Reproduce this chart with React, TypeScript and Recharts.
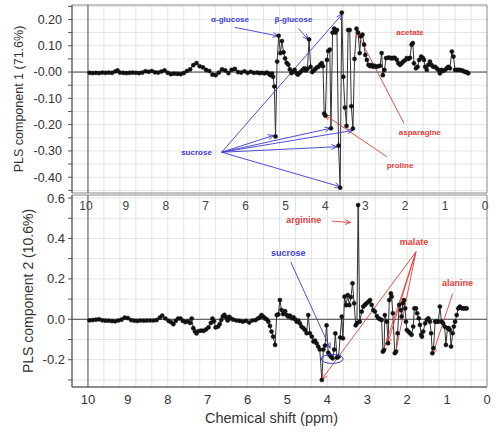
import React from "react";
import {
  CartesianGrid,
  Line,
  LineChart,
  ReferenceArea,
  ReferenceDot,
  ReferenceLine,
  XAxis,
  YAxis,
} from "recharts";

// chemical shift (ppm) / loading pairs
const pc1Loadings: [number, number][] = [
  [9.96, -0.003], [9.88, -0.004], [9.8, -0.003], [9.72, -0.004], [9.64, -0.002], [9.56, -0.003],
  [9.48, -0.002], [9.4, -0.003], [9.32, 0.002], [9.26, 0.006], [9.2, -0.002], [9.12, -0.003],
  [9.04, -0.004], [8.96, -0.003], [8.88, -0.002], [8.8, -0.003], [8.72, -0.004], [8.64, -0.002],
  [8.56, 0.003], [8.48, 0.001], [8.4, 0.004], [8.32, -0.001], [8.24, -0.002], [8.16, 0.002],
  [8.08, 0.006], [8.0, -0.003], [7.92, -0.008], [7.84, -0.006], [7.76, -0.007], [7.68, -0.008],
  [7.6, -0.004], [7.52, 0.004], [7.44, 0.01], [7.36, 0.026], [7.28, 0.034], [7.2, 0.022],
  [7.12, 0.018], [7.04, 0.008], [6.96, 0.004], [6.88, -0.01], [6.8, -0.012], [6.72, -0.002],
  [6.64, 0.01], [6.56, 0.006], [6.48, -0.004], [6.4, 0.008], [6.32, 0.012], [6.24, 0.0],
  [6.16, -0.002], [6.08, 0.003], [6.0, -0.003], [5.92, 0.001], [5.84, -0.003], [5.76, -0.002],
  [5.7, -0.004], [5.64, -0.003], [5.58, -0.005], [5.52, -0.002], [5.47, -0.006], [5.43, -0.012],
  [5.39, -0.006], [5.36, -0.018], [5.33, -0.055], [5.3, -0.245], [5.26, 0.04], [5.22, 0.138],
  [5.18, 0.072], [5.14, 0.118], [5.1, 0.075], [5.06, 0.052], [5.02, 0.035], [4.98, 0.028],
  [4.94, 0.01], [4.9, -0.004], [4.86, 0.002], [4.82, 0.008], [4.78, -0.004], [4.74, -0.01],
  [4.7, -0.004], [4.66, 0.002], [4.62, 0.008], [4.58, 0.014], [4.54, 0.006], [4.5, 0.012],
  [4.46, 0.124], [4.42, 0.02], [4.38, 0.0], [4.34, 0.006], [4.3, 0.012], [4.26, 0.018],
  [4.22, 0.02], [4.18, 0.028], [4.14, 0.034], [4.11, 0.022], [4.08, -0.158], [4.05, -0.166],
  [4.01, 0.046], [3.98, 0.08], [3.94, 0.085], [3.91, -0.214], [3.87, 0.15], [3.83, 0.165],
  [3.8, 0.15], [3.76, 0.16], [3.72, -0.28], [3.68, -0.44], [3.64, 0.226], [3.6, -0.018],
  [3.56, -0.135], [3.52, -0.205], [3.48, 0.16], [3.44, 0.16], [3.4, -0.13], [3.36, -0.215],
  [3.32, 0.05], [3.27, 0.165], [3.23, 0.15], [3.19, 0.072], [3.16, 0.136], [3.12, 0.142],
  [3.08, 0.104], [3.05, 0.065], [3.01, 0.046], [2.97, 0.027], [2.93, 0.022], [2.89, 0.026],
  [2.85, 0.02], [2.81, 0.024], [2.77, 0.02], [2.72, 0.022], [2.68, 0.024], [2.64, 0.072],
  [2.61, -0.012], [2.57, 0.008], [2.53, 0.053], [2.47, 0.055], [2.43, 0.054], [2.39, 0.052],
  [2.35, 0.054], [2.31, 0.054], [2.26, 0.046], [2.22, 0.033], [2.18, 0.027], [2.14, 0.033],
  [2.1, 0.04], [2.06, 0.044], [2.01, 0.053], [1.97, 0.05], [1.93, 0.054], [1.89, 0.104],
  [1.86, 0.11], [1.83, 0.033], [1.78, 0.014], [1.74, 0.02], [1.7, 0.046], [1.65, 0.059],
  [1.61, 0.054], [1.58, 0.046], [1.55, 0.02], [1.51, 0.008], [1.47, 0.027], [1.43, 0.04],
  [1.39, 0.027], [1.35, 0.02], [1.3, 0.02], [1.26, 0.014], [1.22, 0.008], [1.18, -0.005],
  [1.14, 0.008], [1.1, 0.004], [1.05, 0.008], [1.01, 0.014], [0.97, 0.02], [0.93, 0.014],
  [0.88, 0.078], [0.84, 0.059], [0.8, 0.008], [0.76, 0.008], [0.72, 0.008], [0.68, 0.008],
  [0.63, 0.006], [0.59, 0.004], [0.55, 0.0], [0.51, 0.0], [0.47, -0.005],
];

const pc2Loadings: [number, number][] = [
  [9.96, -0.005], [9.88, -0.004], [9.8, -0.002], [9.72, 0.0], [9.64, -0.005], [9.56, -0.007],
  [9.48, -0.007], [9.4, -0.009], [9.32, -0.01], [9.24, -0.006], [9.16, -0.002], [9.08, 0.008],
  [9.0, 0.006], [8.92, -0.004], [8.84, -0.007], [8.76, -0.008], [8.68, -0.006], [8.6, -0.007],
  [8.52, -0.006], [8.44, -0.006], [8.36, -0.006], [8.28, -0.004], [8.2, 0.008], [8.14, 0.018],
  [8.06, 0.004], [7.98, -0.008], [7.92, -0.014], [7.86, -0.024], [7.8, -0.008], [7.74, 0.004],
  [7.68, 0.004], [7.62, -0.008], [7.56, -0.014], [7.5, -0.01], [7.44, -0.018], [7.4, 0.004],
  [7.36, -0.044], [7.32, -0.06], [7.28, -0.07], [7.22, -0.058], [7.16, -0.056], [7.1, -0.057],
  [7.04, -0.05], [6.98, -0.04], [6.92, -0.018], [6.88, 0.004], [6.84, -0.01], [6.8, -0.04],
  [6.74, -0.036], [6.7, -0.024], [6.66, -0.004], [6.62, 0.014], [6.58, 0.022], [6.54, 0.01],
  [6.5, -0.006], [6.46, 0.012], [6.42, 0.004], [6.36, -0.002], [6.28, -0.006], [6.2, -0.008],
  [6.12, -0.012], [6.04, -0.008], [5.96, -0.016], [5.88, -0.006], [5.8, -0.004], [5.74, 0.004],
  [5.69, 0.01], [5.65, 0.021], [5.6, 0.012], [5.56, 0.004], [5.52, 0.0], [5.48, -0.012],
  [5.44, -0.033], [5.4, -0.061], [5.36, -0.086], [5.31, -0.127], [5.27, 0.021], [5.23, 0.024],
  [5.19, 0.095], [5.15, 0.046], [5.11, 0.026], [5.06, 0.04], [5.02, 0.021], [4.98, 0.013],
  [4.94, 0.018], [4.89, 0.005], [4.85, 0.01], [4.81, 0.0], [4.77, -0.012], [4.73, -0.007],
  [4.69, -0.02], [4.65, -0.036], [4.6, -0.044], [4.56, -0.053], [4.52, -0.069], [4.48, 0.021],
  [4.44, -0.069], [4.39, -0.086], [4.35, -0.11], [4.31, -0.105], [4.27, -0.119], [4.23, -0.135],
  [4.19, -0.15], [4.14, -0.3], [4.1, -0.15], [4.06, -0.13], [4.02, -0.03], [3.98, -0.165],
  [3.95, -0.176], [3.91, -0.185], [3.87, -0.193], [3.83, -0.15], [3.8, -0.07], [3.76, -0.19],
  [3.72, -0.185], [3.68, -0.09], [3.64, 0.013], [3.61, -0.094], [3.57, 0.112], [3.53, 0.07],
  [3.49, 0.12], [3.45, 0.07], [3.41, 0.11], [3.37, 0.178], [3.33, 0.079], [3.29, -0.03],
  [3.26, -0.02], [3.23, 0.565], [3.19, -0.012], [3.14, 0.038], [3.1, 0.063], [3.06, 0.071],
  [3.02, 0.079], [2.97, 0.087], [2.93, 0.095], [2.89, 0.071], [2.85, 0.046], [2.81, 0.038],
  [2.76, 0.016], [2.72, 0.005], [2.68, 0.0], [2.64, -0.003], [2.61, -0.16], [2.58, -0.152],
  [2.56, 0.021], [2.51, -0.012], [2.48, -0.119], [2.45, 0.095], [2.41, 0.128], [2.39, 0.112],
  [2.36, 0.03], [2.31, -0.168], [2.28, -0.16], [2.24, -0.069], [2.2, 0.071], [2.16, 0.046],
  [2.14, 0.013], [2.11, 0.079], [2.08, 0.095], [2.05, 0.054], [2.03, -0.012], [2.01, -0.053],
  [1.97, -0.061], [1.93, -0.069], [1.89, -0.077], [1.85, -0.036], [1.82, 0.054], [1.78, 0.054],
  [1.75, 0.03], [1.71, 0.005], [1.68, -0.028], [1.65, -0.077], [1.63, -0.086], [1.6, -0.061],
  [1.55, -0.02], [1.51, -0.003], [1.47, 0.005], [1.43, -0.012], [1.4, -0.069], [1.37, -0.168],
  [1.34, -0.143], [1.3, -0.012], [1.26, -0.012], [1.22, -0.012], [1.18, 0.063], [1.14, -0.012],
  [1.1, -0.02], [1.06, -0.036], [1.03, -0.127], [0.99, -0.044], [0.96, -0.044], [0.93, -0.053],
  [0.9, -0.135], [0.86, -0.069], [0.83, -0.036], [0.8, -0.012], [0.76, 0.021], [0.72, 0.054],
  [0.68, 0.063], [0.63, 0.054], [0.59, 0.054], [0.55, 0.054], [0.51, 0.054],
];

const shiftTicks = [10, 9, 8, 7, 6, 5, 4, 3, 2, 1, 0];
const shiftGrid = [10, 9.6, 9.2, 8.8, 8.4, 8, 7.6, 7.2, 6.8, 6.4, 6, 5.6, 5.2, 4.8, 4.4, 4, 3.6, 3.2, 2.8, 2.4, 2, 1.6, 1.2, 0.8, 0.4];
const pc1Ticks = [0.25, 0.2, 0.15, 0.1, 0.05, 0, -0.05, -0.1, -0.15, -0.2, -0.25, -0.3, -0.35, -0.4, -0.45];
const pc1Labelled = [0.2, 0.1, 0, -0.1, -0.2, -0.3, -0.4];
const pc2Ticks = [0.6, 0.5, 0.4, 0.3, 0.2, 0.1, 0, -0.1, -0.2, -0.3];
const pc2Labelled = [0.6, 0.4, 0.2, 0, -0.2];

const BLUE = "#3b3bd2";
const RED = "#e4403a";

type Note = { text: string; color: string; at: [number, number] };
type Arrow = { color: string; from: [number, number]; to: [number, number]; head?: boolean };

const pc1Notes: Note[] = [
  { text: "α-glucose", color: BLUE, at: [6.44, 0.2] },
  { text: "β-glucose", color: BLUE, at: [4.85, 0.2] },
  { text: "sucrose", color: BLUE, at: [7.28, -0.305] },
  { text: "acetate", color: RED, at: [1.93, 0.151] },
  { text: "asparagine", color: RED, at: [1.68, -0.231] },
  { text: "proline", color: RED, at: [2.18, -0.354] },
];

const pc1Arrows: Arrow[] = [
  { color: BLUE, from: [6.32, 0.17], to: [5.23, 0.137] },
  { color: BLUE, from: [4.73, 0.166], to: [4.48, 0.124] },
  { color: BLUE, from: [6.65, -0.305], to: [5.35, -0.241] },
  { color: BLUE, from: [6.65, -0.305], to: [3.93, -0.214] },
  { color: BLUE, from: [6.65, -0.305], to: [3.36, -0.222] },
  { color: BLUE, from: [6.65, -0.305], to: [3.76, -0.284] },
  { color: BLUE, from: [6.65, -0.305], to: [3.68, -0.436] },
  { color: BLUE, from: [6.65, -0.305], to: [3.63, 0.22] },
  { color: RED, from: [2.08, -0.195], to: [3.27, 0.153] },
  { color: RED, from: [2.51, -0.322], to: [4.06, -0.163] },
];

const pc2Notes: Note[] = [
  { text: "arginine", color: RED, at: [4.59, 0.49] },
  { text: "malate", color: RED, at: [1.83, 0.383] },
  { text: "alanine", color: RED, at: [0.74, 0.178] },
  { text: "sucrose", color: BLUE, at: [4.98, 0.326] },
];

const pc2Arrows: Arrow[] = [
  { color: RED, from: [3.89, 0.486], to: [3.42, 0.479] },
  { color: RED, from: [1.78, 0.334], to: [4.14, -0.297] },
  { color: RED, from: [1.78, 0.334], to: [2.61, -0.163] },
  { color: RED, from: [1.78, 0.334], to: [2.49, -0.12] },
  { color: RED, from: [1.78, 0.334], to: [2.3, -0.173] },
  { color: RED, from: [0.86, 0.128], to: [1.36, -0.173] },
  { color: BLUE, from: [4.92, 0.284], to: [3.93, -0.143] },
];

const FONT = "'Liberation Sans', Arial, sans-serif";

const pc1Data = pc1Loadings.map(([x, y]) => ({ x, y }));
const pc2Data = pc2Loadings.map(([x, y]) => ({ x, y }));

function isLabelled(v: number, list: number[]) {
  return list.some((l) => Math.abs(l - v) < 1e-6);
}

function arrowShape(color: string, head: boolean) {
  return (p: any) => {
    const { x1, y1, x2, y2 } = p;
    const a = Math.atan2(y2 - y1, x2 - x1);
    const L = 6;
    const s = 0.42;
    const ax = x2 - L * Math.cos(a - s);
    const ay = y2 - L * Math.sin(a - s);
    const bx = x2 - L * Math.cos(a + s);
    const by = y2 - L * Math.sin(a + s);
    return (
      <g>
        <line x1={x1} y1={y1} x2={x2} y2={y2} stroke={color} strokeWidth={0.9} />
        {head && (
          <polyline points={`${ax},${ay} ${x2},${y2} ${bx},${by}`} fill="none" stroke={color} strokeWidth={0.9} />
        )}
      </g>
    );
  };
}

function noteShape(text: string, color: string, size: number) {
  return (p: any) => (
    <text
      x={p.cx}
      y={p.cy}
      textAnchor="middle"
      dominantBaseline="central"
      fontFamily={FONT}
      fontWeight="bold"
      fontSize={size}
      fill={color}
    >
      {text}
    </text>
  );
}

function yTitle(text: string, cx: number, size: number) {
  return {
    content: (p: any) => {
      const vb = p.viewBox;
      const cy = vb.y + vb.height / 2;
      return (
        <text
          x={cx}
          y={cy}
          transform={`rotate(-90 ${cx} ${cy})`}
          textAnchor="middle"
          dominantBaseline="central"
          fontFamily={FONT}
          fontSize={size}
          fill="#333"
        >
          {text}
        </text>
      );
    },
  };
}

function TopChart() {
  return (
    <LineChart width={500} height={215} data={pc1Data} margin={{ top: 5, right: 13, bottom: 0, left: 0 }}>
      <CartesianGrid stroke="#e4e4e4" horizontalValues={pc1Ticks} verticalValues={shiftGrid} />
      <XAxis
        type="number"
        dataKey="x"
        domain={[0, 10.4]}
        reversed
        ticks={shiftTicks}
        interval={0}
        height={22}
        axisLine={false}
        tickLine={false}
        tick={(p: any) => (
          <text x={p.x - 2} y={p.y} dy="0.71em" textAnchor="middle" fontFamily={FONT} fontSize={12} fill="#444">
            {p.payload.value}
          </text>
        )}
      />
      <YAxis
        type="number"
        domain={[-0.46, 0.255]}
        ticks={pc1Ticks}
        interval={0}
        width={72}
        stroke="#555"
        tickSize={4}
        tickMargin={6}
        label={yTitle("PLS component 1 (71.6%)", 19, 12.5)}
        tick={(p: any) => {
          const v = p.payload.value;
          if (!isLabelled(v, pc1Labelled)) return <g />;
          return (
            <text x={p.x} y={p.y} dy="0.35em" textAnchor="end" fontFamily={FONT} fontSize={12.5} fill="#333">
              {v === 0 ? "-0.00" : v.toFixed(2)}
            </text>
          );
        }}
      />
      <ReferenceArea x1={10.4} x2={0} y1={-0.46} y2={0.255} fill="none" stroke="#8a8a8a" ifOverflow="visible" />
      <ReferenceLine y={0} stroke="#444" />
      <ReferenceLine x={10} stroke="#555" />
      <Line
        dataKey="y"
        stroke="#333"
        strokeWidth={1}
        dot={{ r: 2.1, fill: "#111", stroke: "#111", strokeWidth: 0.4 }}
        activeDot={false}
        isAnimationActive={false}
      />
      {pc1Arrows.map((a, i) => (
        <ReferenceLine
          key={`a${i}`}
          segment={[{ x: a.from[0], y: a.from[1] }, { x: a.to[0], y: a.to[1] }]}
          stroke={a.color}
          shape={arrowShape(a.color, a.head !== false)}
        />
      ))}
      {pc1Notes.map((n) => (
        <ReferenceDot key={n.text} x={n.at[0]} y={n.at[1]} r={0} shape={noteShape(n.text, n.color, 8)} />
      ))}
    </LineChart>
  );
}

function BottomChart() {
  return (
    <LineChart width={500} height={438} data={pc2Data} margin={{ top: 195, right: 13, bottom: 21, left: 0 }}>
      <CartesianGrid stroke="#e4e4e4" horizontalValues={pc2Ticks} verticalValues={shiftGrid} />
      <XAxis
        type="number"
        dataKey="x"
        domain={[0, 10.4]}
        reversed
        ticks={shiftTicks}
        interval={0}
        height={30}
        stroke="#555"
        tickLine={false}
        label={{
          content: (p: any) => {
            const vb = p.viewBox;
            return (
              <text x={vb.x + vb.width / 2 - 8} y={418} textAnchor="middle" dominantBaseline="central" fontFamily={FONT} fontSize={14.5} fill="#333">
                Chemical shift (ppm)
              </text>
            );
          },
        }}
        tick={(p: any) => (
          <text x={p.x} y={p.y} dy="0.71em" textAnchor="middle" fontFamily={FONT} fontSize={13} fill="#333">
            {p.payload.value}
          </text>
        )}
      />
      <YAxis
        type="number"
        domain={[-0.335, 0.615]}
        ticks={pc2Ticks}
        interval={0}
        width={72}
        stroke="#555"
        tickSize={4}
        tickMargin={3}
        label={yTitle("PLS component  2 (10.6%)", 28, 14)}
        tick={(p: any) => {
          const v = p.payload.value;
          if (!isLabelled(v, pc2Labelled)) return <g />;
          return (
            <text x={p.x} y={p.y} dy="0.35em" textAnchor="end" fontFamily={FONT} fontSize={13} fill="#333">
              {v.toFixed(1)}
            </text>
          );
        }}
      />
      <ReferenceArea x1={10.4} x2={0} y1={-0.335} y2={0.615} fill="none" stroke="#8a8a8a" ifOverflow="visible" />
      <ReferenceLine y={0} stroke="#444" />
      <ReferenceLine x={10} stroke="#555" />
      <Line
        dataKey="y"
        stroke="#333"
        strokeWidth={1}
        dot={{ r: 2.1, fill: "#111", stroke: "#111", strokeWidth: 0.4 }}
        activeDot={false}
        isAnimationActive={false}
      />
      {pc2Arrows.map((a, i) => (
        <ReferenceLine
          key={`b${i}`}
          segment={[{ x: a.from[0], y: a.from[1] }, { x: a.to[0], y: a.to[1] }]}
          stroke={a.color}
          shape={arrowShape(a.color, a.head !== false)}
        />
      ))}
      <ReferenceDot
        x={3.88}
        y={-0.196}
        r={0}
        shape={(p: any) => <ellipse cx={p.cx} cy={p.cy} rx={11} ry={4.5} fill="none" stroke={BLUE} strokeWidth={1} />}
      />
      {pc2Notes.map((n) => (
        <ReferenceDot key={n.text} x={n.at[0]} y={n.at[1]} r={0} shape={noteShape(n.text, n.color, 9)} />
      ))}
    </LineChart>
  );
}

export default function App() {
  return (
    <div style={{ position: "fixed", left: 0, top: 0, width: 500, height: 438, background: "#fff" }}>
      <div style={{ position: "absolute", left: 0, top: 0 }}>
        <BottomChart />
      </div>
      <div style={{ position: "absolute", left: 0, top: 0 }}>
        <TopChart />
      </div>
    </div>
  );
}
